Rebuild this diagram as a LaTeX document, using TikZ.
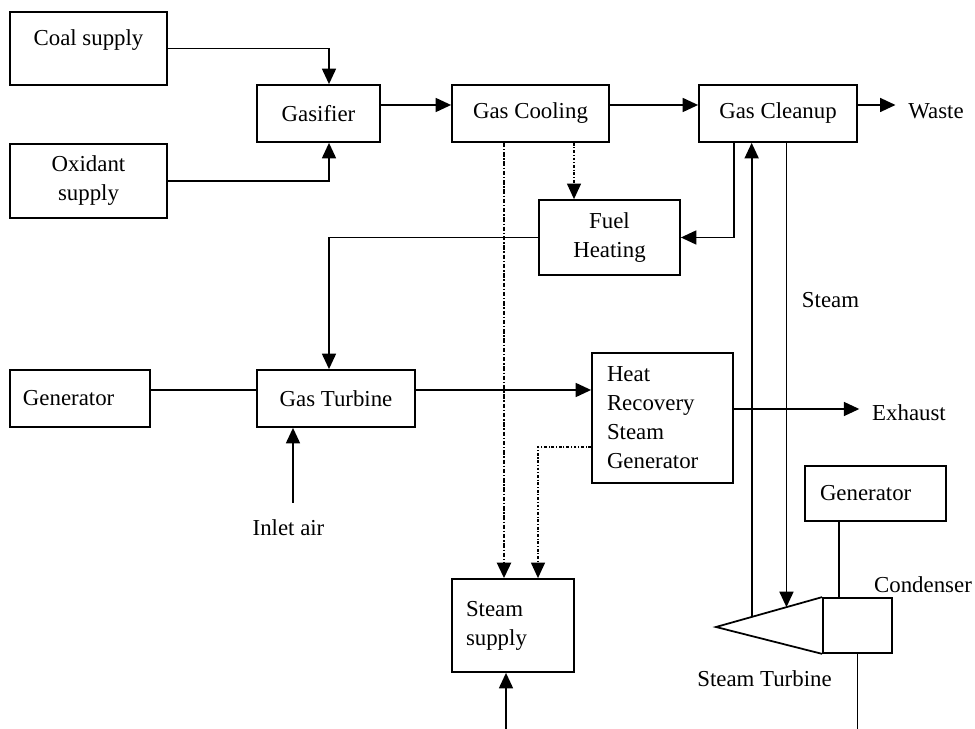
\documentclass[tikz,border=0pt]{standalone}
\usepackage{fontspec}
\setmainfont{Liberation Serif}
\usetikzlibrary{arrows.meta, positioning, calc}
\tikzset{
  box/.style={draw, align=center, minimum height=1.14cm, minimum width=3.14cm},
  lbox/.style={box, align=left, minimum width=0pt, inner xsep=3mm, text width=2.22cm},
  lbl/.style={inner xsep=2.4mm, inner ysep=1mm},
  arr/.style={-{Triangle[length=3.1mm, width=2.8mm]}},
  dotarr/.style={arr, line width=0.7pt, dash pattern=on 1.6pt off 1pt on 0.6pt off 1pt},
  dasharr/.style={arr, line width=1.5pt, dash pattern=on 2.5pt off 1pt on 0.8pt off 1pt},
}

\begin{document}
\begin{tikzpicture}[x=0.2mm, y=-0.2mm, line width=1pt, font=\fontsize{13}{16.5}\selectfont]
    \useasboundingbox (0,0) rectangle (975,729);
    \node[box, minimum height=1.46cm, text height=9pt, text depth=12pt] (coal) at (88.5,48.5) {Coal supply};
    \node[box, minimum height=1.48cm] (oxidant) at (88.5,181) {Oxidant\\supply};
    \node[box, minimum width=2.46cm] (gasifier) at (318.5,113.5) {Gasifier};
    \node[box] (cooling) at (530.5,113.5) {Gas Cooling};
    \node[box, minimum width=3.16cm] (cleanup) at (778,113.5) {Gas Cleanup};
    \node[box, minimum width=2.82cm, minimum height=1.5cm] (fuelheat) at (609.5,237.5) {Fuel\\Heating};
    \node[lbox, inner xsep=2.6mm, text width=2.28cm] (genL) at (80,398.5) {Generator};
    \node[box, minimum width=3.16cm] (gasturb) at (336,398.5) {Gas Turbine};
    \node[lbox, minimum height=2.6cm] (hrsg) at (662.5,418) {Heat\\Recovery\\Steam\\Generator};
    \node[lbox, minimum height=1.1cm] (genR) at (875.5,493.5) {Generator};
    \node[box, minimum width=1.38cm, minimum height=1.1cm] (condenser) at (857.5,625.5) {};
    \node[lbox, inner xsep=2.8mm, text width=1.88cm, minimum height=1.86cm] (steamsup) at (513,625.5) {Steam\\supply};

    \node[lbl] (waste) at (936,111) {Waste};
    \node[lbl] (exhaust) at (909,413) {Exhaust};
    \node[lbl] (steam) at (830.5,300) {Steam};
    \node[lbl] (inlet) at (288.5,528) {Inlet air};
    \node[lbl] (condlbl) at (923,585) {Condenser};
    \node[lbl] (stturb) at (764.5,679) {Steam Turbine};

    \coordinate (tapex) at (716,627);
    \coordinate (airin) at (293,503);
    \coordinate (supin) at (506,729);
    \coordinate (condout) at (858,729);
    \draw (condenser.north west) -- (tapex) -- (condenser.south west);
    \path (tapex) -- (condenser.north west) coordinate[pos=0.336] (tin) coordinate[pos=0.664] (tout);

    \draw[arr] (coal.east) -| ([xshift=2.1mm]gasifier.north);
    \draw[arr] (oxidant.east) -| ([xshift=2.1mm]gasifier.south);
    \draw[arr] ([yshift=1.7mm]gasifier.east) -- ([yshift=1.7mm]cooling.west);
    \draw[arr] ([yshift=1.7mm]cooling.east) -- ([yshift=1.7mm]cleanup.west);
    \draw[arr] ([yshift=1.7mm]cleanup.east) -- ([yshift=1.7mm]cleanup.east -| waste.west);
    \draw[dotarr] ([xshift=8.7mm]cooling.south) -- ([xshift=8.7mm]cooling.south |- fuelheat.north);
    \draw[dasharr] ([xshift=-5.3mm]cooling.south) -- ([xshift=-5.3mm]cooling.south |- steamsup.north);
    \draw[arr] ([xshift=-8.8mm]cleanup.south) |- (fuelheat.east);
    \draw[arr] (fuelheat.west) -| ([xshift=-1.4mm]gasturb.north);
    \draw ([yshift=1.7mm]genL.east) -- ([yshift=1.7mm]gasturb.west);
    \draw[arr] ([yshift=1.7mm]gasturb.east) -- ([yshift=1.7mm]gasturb.east -| hrsg.west);
    \draw[arr] (airin) -- (airin |- gasturb.south);
    \draw[arr] ([yshift=1.8mm]hrsg.east) -- ([yshift=1.8mm]hrsg.east -| exhaust.west);
    \draw[dotarr] ([yshift=-5.8mm]hrsg.west) -| ([xshift=5mm]steamsup.north);
    \draw[arr] (tin) -- (tin |- cleanup.south);
    \draw[arr] (tout |- cleanup.south) -- (tout);
    \draw ([xshift=-3.7mm]condenser.north) -- ([xshift=-3.7mm]condenser.north |- genR.south);
    \draw[arr] (supin) -- (supin |- steamsup.south);
    \draw (condenser.south) -- (condenser.south |- condout);
  \end{tikzpicture}
\end{document}
